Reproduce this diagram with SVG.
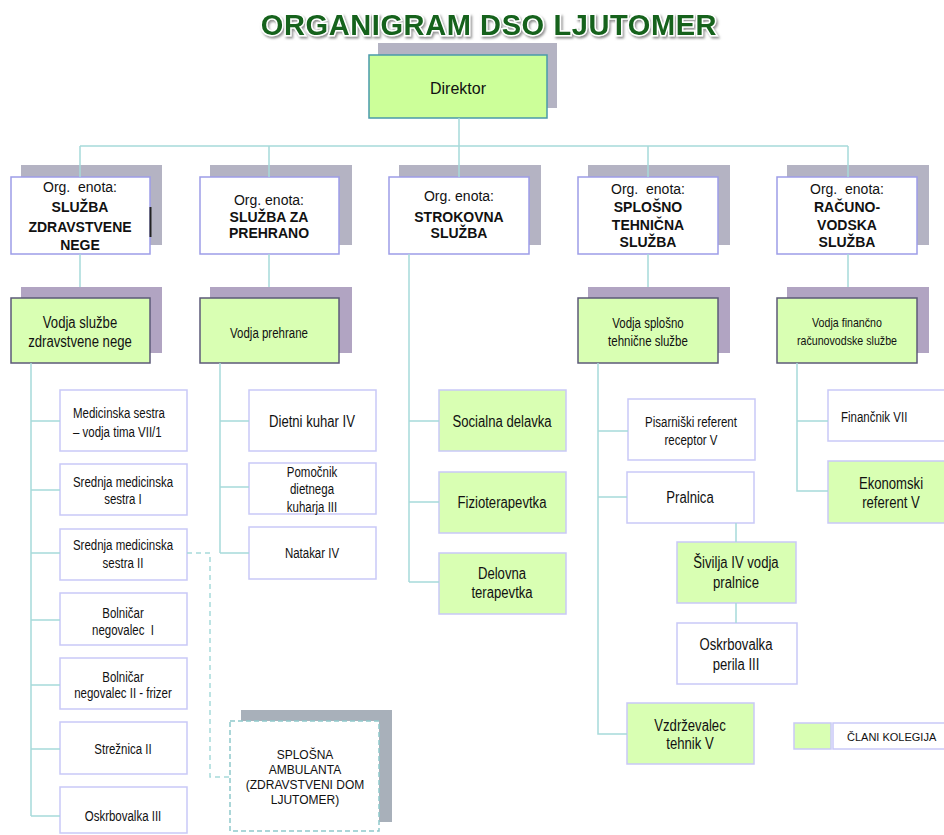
<svg xmlns="http://www.w3.org/2000/svg" width="944" height="835" viewBox="0 0 944 835">
<defs>
<filter id="tsh" x="-5%" y="-30%" width="110%" height="160%">
<feDropShadow dx="1.5" dy="2" stdDeviation="1.2" flood-color="#7a7a7a" flood-opacity="0.8"/>
</filter>
</defs>
<style>
.org{fill:#fff;stroke:#9d9de8;stroke-width:1.5}
.osh{fill:#b4b3c3}
.vsh{fill:#b1a4c2}
.vod{fill:#d9ffb3;stroke:#5c5a78;stroke-width:1.5}
.dir{fill:#ccff99;stroke:#4a9aaa;stroke-width:1.5}
.dsh{fill:#b4b3c3}
.ch{fill:#fff;stroke:#c9c9f7;stroke-width:1.5}
.chg{fill:#d9ffb3;stroke:#c9c9f7;stroke-width:1.5}
.amb{fill:#fff;stroke:#8ec9cc;stroke-width:1.5;stroke-dasharray:5 3}
.ash{fill:#a8b0ba}
.ln{fill:none;stroke:#a7dada;stroke-width:1.5}
.dl{fill:none;stroke:#a7dada;stroke-width:1.5;stroke-dasharray:5 4}
text{font-family:"Liberation Sans",Arial,sans-serif;fill:#111;text-anchor:middle;dominant-baseline:central}
.st{text-anchor:start}
.s12{font-size:12px}.s13{font-size:13px}.s14{font-size:14px}.s16{font-size:16px}
.b{font-weight:bold}
.pre{white-space:pre}
.title{font-family:"Liberation Sans",Arial,sans-serif;font-size:29px;font-weight:bold;fill:#12621a;stroke:#ffffff;stroke-width:3;paint-order:stroke;letter-spacing:0.6px;dominant-baseline:auto}
</style>

<text class="title" x="489" y="35" filter="url(#tsh)">ORGANIGRAM DSO LJUTOMER</text>

<g id="direktor">
<rect class="dsh" x="378" y="43" width="179" height="65"/>
<rect class="dir" x="369" y="55" width="178" height="63"/>
<text class="s16" x="458" y="88">Direktor</text>
</g>

<g id="org-zdravstvena">
<rect class="osh" x="21" y="165" width="141" height="80"/>
<rect class="org" x="11" y="177" width="139" height="77"/>
<line x1="150.5" y1="207" x2="150.5" y2="237" stroke="#222" stroke-width="2"/>
<text class="s14 pre" x="80" y="187">Org.  enota:</text>
<text class="s14 b" x="80" y="207">SLUŽBA</text>
<text class="s14 b" x="80" y="227">ZDRAVSTVENE</text>
<text class="s14 b" x="80" y="245">NEGE</text>
</g>
<g id="org-prehrana">
<rect class="osh" x="210" y="165" width="142" height="80"/>
<rect class="org" x="200" y="177" width="139" height="77"/>
<text class="s14" x="269" y="200">Org. enota:</text>
<text class="s14 b" x="269" y="217">SLUŽBA ZA</text>
<text class="s14 b" x="269" y="233">PREHRANO</text>
</g>
<g id="org-strokovna">
<rect class="osh" x="399" y="165" width="142" height="80"/>
<rect class="org" x="389" y="177" width="140" height="77"/>
<text class="s14" x="459" y="196">Org. enota:</text>
<text class="s14 b" x="459" y="217">STROKOVNA</text>
<text class="s14 b" x="459" y="233">SLUŽBA</text>
</g>
<g id="org-tehnicna">
<rect class="osh" x="588" y="165" width="142" height="80"/>
<rect class="org" x="578" y="177" width="140" height="77"/>
<text class="s14 pre" x="648" y="189">Org.  enota:</text>
<text class="s14 b" x="648" y="207">SPLOŠNO</text>
<text class="s14 b" x="648" y="225">TEHNIČNA</text>
<text class="s14 b" x="648" y="242">SLUŽBA</text>
</g>
<g id="org-racunovodska">
<rect class="osh" x="787" y="165" width="142" height="80"/>
<rect class="org" x="777" y="177" width="140" height="77"/>
<text class="s14 pre" x="847" y="189">Org.  enota:</text>
<text class="s14 b" x="847" y="207">RAČUNO-</text>
<text class="s14 b" x="847" y="225">VODSKA</text>
<text class="s14 b" x="847" y="242">SLUŽBA</text>
</g>

<g id="vodja-zdravstvena">
<rect class="vsh" x="21" y="287" width="141" height="66"/>
<rect class="vod" x="11" y="298" width="139" height="65"/>
<g transform="translate(80 0) scale(0.82 1)">
<text class="s16" x="0" y="323">Vodja službe</text>
<text class="s16" x="0" y="342">zdravstvene nege</text>
</g>
</g>
<g id="vodja-prehrana">
<rect class="vsh" x="210" y="287" width="142" height="66"/>
<rect class="vod" x="200" y="298" width="139" height="65"/>
<g transform="translate(269 0) scale(0.82 1)">
<text class="s14" x="0" y="333">Vodja prehrane</text>
</g>
</g>
<g id="vodja-tehnicna">
<rect class="vsh" x="588" y="287" width="142" height="66"/>
<rect class="vod" x="578" y="298" width="140" height="65"/>
<g transform="translate(648 0) scale(0.82 1)">
<text class="s14" x="0" y="323">Vodja splošno</text>
<text class="s14" x="0" y="341">tehnične službe</text>
</g>
</g>
<g id="vodja-racunovodska">
<rect class="vsh" x="787" y="287" width="142" height="66"/>
<rect class="vod" x="777" y="298" width="140" height="65"/>
<g transform="translate(847 0) scale(0.82 1)">
<text class="s13" x="0" y="323">Vodja finančno</text>
<text class="s13" x="0" y="341">računovodske službe</text>
</g>
</g>

<g id="med-sestra-vodja">
<rect class="ch" x="60" y="390" width="127" height="61"/>
<g transform="translate(73 0) scale(0.82 1)">
<text class="s14 st" x="0" y="413">Medicinska sestra</text>
<text class="s14 st" x="0" y="432">– vodja tima VII/1</text>
</g>
</g>
<g id="sr-med-sestra-1">
<rect class="ch" x="60" y="464" width="127" height="51"/>
<g transform="translate(123 0) scale(0.82 1)">
<text class="s14" x="0" y="482">Srednja medicinska</text>
<text class="s14" x="0" y="499">sestra I</text>
</g>
</g>
<g id="sr-med-sestra-2">
<rect class="ch" x="60" y="529" width="127" height="51"/>
<g transform="translate(123 0) scale(0.82 1)">
<text class="s14" x="0" y="545">Srednja medicinska</text>
<text class="s14" x="0" y="563">sestra II</text>
</g>
</g>
<g id="bolnicar-1">
<rect class="ch" x="60" y="593" width="127" height="52"/>
<g transform="translate(123 0) scale(0.82 1)">
<text class="s14" x="0" y="613">Bolničar</text>
<text class="s14 pre" x="0" y="630">negovalec  I</text>
</g>
</g>
<g id="bolnicar-2">
<rect class="ch" x="60" y="658" width="127" height="51"/>
<g transform="translate(123 0) scale(0.82 1)">
<text class="s14" x="0" y="677">Bolničar</text>
<text class="s14" x="0" y="693">negovalec II - frizer</text>
</g>
</g>
<g id="streznica">
<rect class="ch" x="60" y="722" width="127" height="52"/>
<g transform="translate(123 0) scale(0.82 1)">
<text class="s14" x="0" y="749">Strežnica II</text>
</g>
</g>
<g id="oskrbovalka">
<rect class="ch" x="60" y="787" width="127" height="46"/>
<g transform="translate(123 0) scale(0.82 1)">
<text class="s14" x="0" y="816">Oskrbovalka III</text>
</g>
</g>

<g id="dietni-kuhar">
<rect class="ch" x="249" y="390" width="127" height="61"/>
<g transform="translate(312 0) scale(0.82 1)">
<text class="s16" x="0" y="422">Dietni kuhar IV</text>
</g>
</g>
<g id="pomocnik">
<rect class="ch" x="249" y="463" width="127" height="51"/>
<g transform="translate(312 0) scale(0.82 1)">
<text class="s14" x="0" y="472">Pomočnik</text>
<text class="s14" x="0" y="489">dietnega</text>
<text class="s14" x="0" y="507">kuharja III</text>
</g>
</g>
<g id="natakar">
<rect class="ch" x="249" y="527" width="127" height="52"/>
<g transform="translate(312 0) scale(0.82 1)">
<text class="s14" x="0" y="553">Natakar IV</text>
</g>
</g>

<g id="socialna">
<rect class="chg" x="439" y="390" width="127" height="61"/>
<g transform="translate(502 0) scale(0.82 1)">
<text class="s16" x="0" y="422">Socialna delavka</text>
</g>
</g>
<g id="fizioterapevtka">
<rect class="chg" x="439" y="472" width="127" height="61"/>
<g transform="translate(502 0) scale(0.82 1)">
<text class="s16" x="0" y="503">Fizioterapevtka</text>
</g>
</g>
<g id="delovna">
<rect class="chg" x="439" y="553" width="127" height="61"/>
<g transform="translate(502 0) scale(0.82 1)">
<text class="s16" x="0" y="574">Delovna</text>
<text class="s16" x="0" y="593">terapevtka</text>
</g>
</g>

<g id="pisarniski">
<rect class="ch" x="628" y="399" width="127" height="61"/>
<g transform="translate(691 0) scale(0.82 1)">
<text class="s14" x="0" y="422">Pisarniški referent</text>
<text class="s14" x="0" y="440">receptor V</text>
</g>
</g>
<g id="pralnica">
<rect class="ch" x="627" y="472" width="127" height="51"/>
<g transform="translate(690 0) scale(0.82 1)">
<text class="s16" x="0" y="498">Pralnica</text>
</g>
</g>
<g id="sivilja">
<rect class="chg" x="677" y="542" width="119" height="61"/>
<g transform="translate(736 0) scale(0.82 1)">
<text class="s16" x="0" y="563">Šivilja IV vodja</text>
<text class="s16" x="0" y="583">pralnice</text>
</g>
</g>
<g id="oskrbovalka-perila">
<rect class="ch" x="677" y="623" width="120" height="61"/>
<g transform="translate(736 0) scale(0.82 1)">
<text class="s16" x="0" y="645">Oskrbovalka</text>
<text class="s16" x="0" y="665">perila III</text>
</g>
</g>
<g id="vzdrzevalec">
<rect class="chg" x="627" y="703" width="127" height="61"/>
<g transform="translate(690 0) scale(0.82 1)">
<text class="s16" x="0" y="726">Vzdrževalec</text>
<text class="s16" x="0" y="744">tehnik V</text>
</g>
</g>

<g id="financnik">
<rect class="ch" x="828" y="390" width="120" height="51"/>
<g transform="translate(841 0) scale(0.82 1)">
<text class="s14 st" x="0" y="417">Finančnik VII</text>
</g>
</g>
<g id="ekonomski">
<rect class="chg" x="828" y="461" width="120" height="62"/>
<g transform="translate(891 0) scale(0.82 1)">
<text class="s16" x="0" y="484">Ekonomski</text>
<text class="s16" x="0" y="503">referent V</text>
</g>
</g>

<g id="splosna-ambulanta">
<rect class="ash" x="241" y="710" width="151" height="112"/>
<rect class="amb" x="230" y="721" width="149" height="110"/>
<text class="s12" x="305" y="755">SPLOŠNA</text>
<text class="s12" x="305" y="770">AMBULANTA</text>
<text class="s12" x="305" y="785">(ZDRAVSTVENI DOM</text>
<text class="s12" x="305" y="800">LJUTOMER)</text>
</g>

<g id="legend">
<rect class="chg" x="794" y="723" width="37" height="26"/>
<rect class="ch" x="833" y="723" width="112" height="26"/>
<text class="st" style="font-size:11px" x="847" y="737">ČLANI KOLEGIJA</text>
</g>

<g id="connectors">
<path class="ln" d="M459 118V146M80 146H848M80 146V177M269 146V177M459 146V177M648 146V177M848 146V177"/>
<path class="ln" d="M80 254V287M269 254V287M648 254V287M848 254V287"/>
<path class="ln" d="M31 363V816M31 421H60M31 490H60M31 553H60M31 620H60M31 685H60M31 749H60M31 816H60"/>
<path class="ln" d="M220 363V553M220 421H249M220 487H249M220 553H249"/>
<path class="ln" d="M409 254V582M409 421H439M409 502H439M409 582H439"/>
<path class="ln" d="M598 363V734H627M598 431H628M598 497H627M736 523V542M736 603V623"/>
<path class="ln" d="M797 363V491H828M797 421H828"/>
<path class="dl" d="M187 553H210V777H230"/>
</g>
</svg>
